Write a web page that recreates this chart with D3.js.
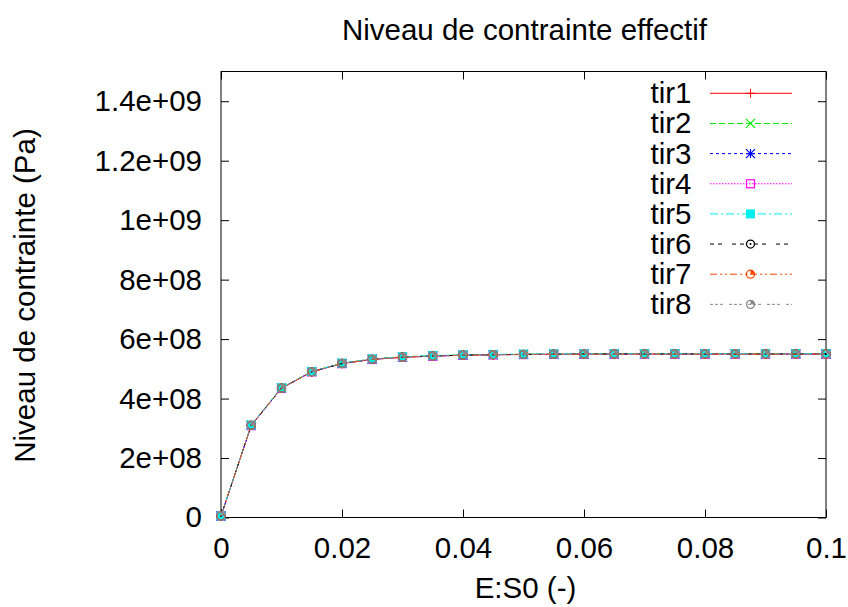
<!DOCTYPE html>
<html>
<head>
<meta charset="utf-8">
<script src="https://cdn.jsdelivr.net/npm/d3@7"></script>
<style>
  html, body { margin: 0; padding: 0; background: #fff; }
  svg { display: block; }
  text { font-family: "Liberation Sans", Arial, sans-serif; fill: #000; }
</style>
</head>
<body>
<script>
// ---- data ----
const strain = [0, 0.005, 0.01, 0.015, 0.02, 0.025, 0.03, 0.035, 0.04, 0.045, 0.05,
                0.055, 0.06, 0.065, 0.07, 0.075, 0.08, 0.085, 0.09, 0.095, 0.1];
const tir1 = [5e6, 3.10e8, 4.35e8, 4.90e8, 5.18e8, 5.32e8, 5.39e8, 5.43e8, 5.46e8, 5.475e8, 5.485e8,
              5.49e8, 5.495e8, 5.50e8, 5.50e8, 5.50e8, 5.50e8, 5.50e8, 5.50e8, 5.50e8, 5.50e8];
const tir2 = [5e6, 3.11e8, 4.36e8, 4.91e8, 5.19e8, 5.33e8, 5.40e8, 5.44e8, 5.465e8, 5.48e8, 5.49e8,
              5.495e8, 5.50e8, 5.50e8, 5.505e8, 5.505e8, 5.505e8, 5.505e8, 5.505e8, 5.505e8, 5.505e8];
const tir3 = [5e6, 3.10e8, 4.35e8, 4.905e8, 5.185e8, 5.325e8, 5.395e8, 5.435e8, 5.46e8, 5.475e8, 5.485e8,
              5.49e8, 5.495e8, 5.50e8, 5.50e8, 5.50e8, 5.50e8, 5.50e8, 5.50e8, 5.50e8, 5.50e8];
const tir4 = [5e6, 3.09e8, 4.34e8, 4.90e8, 5.175e8, 5.315e8, 5.385e8, 5.425e8, 5.455e8, 5.47e8, 5.48e8,
              5.485e8, 5.49e8, 5.495e8, 5.495e8, 5.495e8, 5.495e8, 5.495e8, 5.495e8, 5.495e8, 5.495e8];
const tir5 = [5e6, 3.11e8, 4.36e8, 4.91e8, 5.19e8, 5.335e8, 5.405e8, 5.445e8, 5.47e8, 5.485e8, 5.495e8,
              5.50e8, 5.505e8, 5.51e8, 5.51e8, 5.51e8, 5.51e8, 5.51e8, 5.51e8, 5.51e8, 5.51e8];
const tir6 = [5e6, 3.10e8, 4.35e8, 4.90e8, 5.18e8, 5.32e8, 5.39e8, 5.43e8, 5.46e8, 5.475e8, 5.485e8,
              5.49e8, 5.495e8, 5.50e8, 5.50e8, 5.50e8, 5.50e8, 5.50e8, 5.50e8, 5.50e8, 5.50e8];
const tir7 = [5e6, 3.10e8, 4.35e8, 4.90e8, 5.18e8, 5.32e8, 5.39e8, 5.43e8, 5.455e8, 5.47e8, 5.48e8,
              5.485e8, 5.49e8, 5.495e8, 5.495e8, 5.495e8, 5.495e8, 5.495e8, 5.495e8, 5.495e8, 5.495e8];
const tir8 = [5e6, 3.10e8, 4.35e8, 4.90e8, 5.18e8, 5.32e8, 5.39e8, 5.43e8, 5.46e8, 5.475e8, 5.485e8,
              5.49e8, 5.495e8, 5.50e8, 5.50e8, 5.50e8, 5.50e8, 5.50e8, 5.50e8, 5.50e8, 5.50e8];
const seriesNames = ["tir1", "tir2", "tir3", "tir4", "tir5", "tir6", "tir7", "tir8"];
const seriesValues = [tir1, tir2, tir3, tir4, tir5, tir6, tir7, tir8];
const xTicks = [0, 0.02, 0.04, 0.06, 0.08, 0.1];
const xTickLabels = ["0", "0.02", "0.04", "0.06", "0.08", "0.1"];
const yTicks = [0, 2e8, 4e8, 6e8, 8e8, 1e9, 1.2e9, 1.4e9];
const yTickLabels = ["0", "2e+08", "4e+08", "6e+08", "8e+08", "1e+09", "1.2e+09", "1.4e+09"];
const titleText = "Niveau de contrainte effectif";
const xLabel = "E:S0 (-)";
const yLabel = "Niveau de contrainte (Pa)";

// ---- styles ----
const styles = [
  { color: "#ff0000", dash: null,           marker: "plus" },
  { color: "#00ee00", dash: "6,3",          marker: "cross" },
  { color: "#0000ff", dash: "3,3",          marker: "star" },
  { color: "#ff00ff", dash: "1.5,1.5",      marker: "box" },
  { color: "#00f0f0", dash: "8,3,2,3",      marker: "fbox" },
  { color: "#000000", dash: "4,4,4,10",     marker: "circle" },
  { color: "#ff4500", dash: "7,3,2,3,2,3",  marker: "qcircle" },
  { color: "#888888", dash: "3,2,3,2,3,6",  marker: "qcircle" }
];

const W = 848, H = 607;
const pLeft = 221, pRight = 826, pTop = 71.5, pBottom = 517.5;
const FS = 29.5;
const textColor = "#111";

const svg = d3.select("body").append("svg").attr("width", W).attr("height", H);

const x = d3.scaleLinear().domain([0, 0.1]).range([pLeft, pRight]);
const y = d3.scaleLinear().domain([0, 1.5e9]).range([pBottom, pTop]);

// title
svg.append("text").attr("x", (pLeft + pRight) / 2 + 1).attr("y", 40)
  .attr("text-anchor", "middle").style("font-size", FS + "px").attr("fill", textColor).text(titleText);

// axes (ticks inward, mirrored)
const tl = 8;
const axB = svg.append("g").attr("transform", `translate(0,${pBottom})`)
  .call(d3.axisBottom(x).tickValues(xTicks).tickSize(-tl).tickPadding(20)
        .tickFormat((d, i) => xTickLabels[i]));
const axT = svg.append("g").attr("transform", `translate(0,${pTop})`)
  .call(d3.axisTop(x).tickValues(xTicks).tickSize(-tl).tickFormat(""));
const axL = svg.append("g").attr("transform", `translate(${pLeft},0)`)
  .call(d3.axisLeft(y).tickValues(yTicks).tickSize(-tl).tickPadding(19)
        .tickFormat((d, i) => yTickLabels[i]));
const axR = svg.append("g").attr("transform", `translate(${pRight},0)`)
  .call(d3.axisRight(y).tickValues(yTicks).tickSize(-tl).tickFormat(""));
[axB, axT, axL, axR].forEach(g => {
  g.select(".domain").remove();
  g.selectAll(".tick line").attr("stroke", "#000").attr("stroke-width", 1);
  g.selectAll("text").style("font-size", FS + "px")
    .style("font-family", "'Liberation Sans', Arial, sans-serif").attr("fill", textColor);
});
axB.selectAll("text").attr("dy", "0.71em");

// border
svg.append("rect").attr("x", pLeft).attr("y", pTop)
  .attr("width", pRight - pLeft).attr("height", pBottom - pTop)
  .attr("fill", "none").attr("stroke", "#000").attr("stroke-width", 1);

// axis labels
svg.append("text").attr("x", (pLeft + pRight) / 2 + 2).attr("y", 598)
  .attr("text-anchor", "middle").style("font-size", FS + "px").attr("fill", textColor).text(xLabel);
svg.append("text")
  .attr("transform", `translate(35,${(pTop + pBottom) / 2 + 1}) rotate(-90)`)
  .attr("text-anchor", "middle").style("font-size", FS + "px").attr("fill", textColor).text(yLabel);

// marker drawing
const MS = 4.5;
function drawMarker(g, type, color, cx, cy) {
  const s = MS;
  if (type === "plus") {
    g.append("path").attr("d", `M${cx - s},${cy}H${cx + s}M${cx},${cy - s}V${cy + s}`)
      .attr("stroke", color).attr("stroke-width", 1).attr("fill", "none");
  } else if (type === "cross") {
    g.append("path").attr("d", `M${cx - s},${cy - s}L${cx + s},${cy + s}M${cx - s},${cy + s}L${cx + s},${cy - s}`)
      .attr("stroke", color).attr("stroke-width", 1.2).attr("fill", "none");
  } else if (type === "star") {
    g.append("path").attr("d", `M${cx - s},${cy}H${cx + s}M${cx},${cy - s}V${cy + s}M${cx - s},${cy - s}L${cx + s},${cy + s}M${cx - s},${cy + s}L${cx + s},${cy - s}`)
      .attr("stroke", color).attr("stroke-width", 1.2).attr("fill", "none");
  } else if (type === "box") {
    g.append("rect").attr("x", cx - s + 0.5).attr("y", cy - s + 0.5)
      .attr("width", 2 * s - 1).attr("height", 2 * s - 1)
      .attr("stroke", color).attr("stroke-width", 1.2).attr("fill", "none");
  } else if (type === "fbox") {
    g.append("rect").attr("x", cx - s).attr("y", cy - s)
      .attr("width", 2 * s).attr("height", 2 * s).attr("fill", color);
  } else if (type === "circle") {
    g.append("circle").attr("cx", cx).attr("cy", cy).attr("r", s - 0.5)
      .attr("stroke", color).attr("stroke-width", 1.3).attr("fill", "none");
    g.append("circle").attr("cx", cx).attr("cy", cy).attr("r", 1).attr("fill", color);
  } else if (type === "qcircle") {
    const r = s - 0.5;
    g.append("path").attr("d", `M${cx},${cy}V${cy - r}A${r},${r} 0 0 1 ${cx + r},${cy}Z`)
      .attr("fill", color);
    g.append("circle").attr("cx", cx).attr("cy", cy).attr("r", r)
      .attr("stroke", color).attr("stroke-width", 1.3).attr("fill", "none");
  }
}

// series
const line = d3.line().x(d => x(d[0])).y(d => y(d[1]));
const plotG = svg.append("g");
seriesValues.forEach((vals, i) => {
  const st = styles[i];
  const pts = strain.map((s, j) => [s, vals[j]]);
  const g = plotG.append("g");
  g.append("path").datum(pts).attr("d", line)
    .attr("fill", "none").attr("stroke", st.color).attr("stroke-width", 1)
    .attr("stroke-dasharray", st.dash);
  pts.forEach(p => drawMarker(g, st.marker, st.color, x(p[0]), y(p[1])));
});

// legend
const legX1 = 710, legX2 = 792, legM = 750.5, legText = 691.5;
const legY0 = 93.3, legStep = 30.15;
seriesNames.forEach((name, i) => {
  const st = styles[i];
  const ly = legY0 + i * legStep;
  const g = svg.append("g");
  g.append("text").attr("x", legText).attr("y", ly).attr("dy", "0.34em")
    .attr("text-anchor", "end").style("font-size", FS + "px").attr("fill", textColor).text(name);
  g.append("line").attr("x1", legX1).attr("x2", legX2).attr("y1", ly).attr("y2", ly)
    .attr("stroke", st.color).attr("stroke-width", 1).attr("stroke-dasharray", st.dash);
  drawMarker(g, st.marker, st.color, legM, ly);
});
</script>
</body>
</html>
